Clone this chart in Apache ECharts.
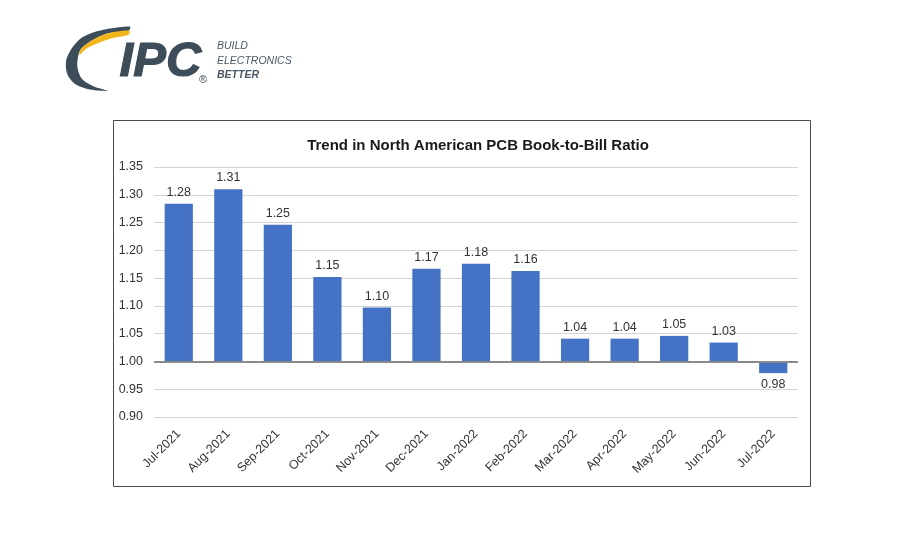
<!DOCTYPE html>
<html>
<head>
<meta charset="utf-8">
<script src="https://cdn.jsdelivr.net/npm/echarts@6/dist/echarts.min.js"></script>
<style>
html,body{margin:0;padding:0;background:#fff;}
#chart{width:900px;height:550px;}
</style>
</head>
<body>
<div id="chart"></div>
<script>
// ---- data ----
var categories = ['Jul-2021','Aug-2021','Sep-2021','Oct-2021','Nov-2021','Dec-2021','Jan-2022','Feb-2022','Mar-2022','Apr-2022','May-2022','Jun-2022','Jul-2022'];
var ratios = [1.284, 1.310, 1.246, 1.152, 1.097, 1.167, 1.176, 1.163, 1.041, 1.041, 1.046, 1.034, 0.979];
var baseline = 1.00;
var yMin = 0.90, yMax = 1.35, yStep = 0.05;
var titleText = 'Trend in North American PCB Book-to-Bill Ratio';

var chart = echarts.init(document.getElementById('chart'), null, {renderer:'canvas'});
var FONT = 'Liberation Sans, Arial, sans-serif';

var barData = ratios.map(function (v) {
  var d = v - baseline;
  return {value: d, label: {position: d < 0 ? 'bottom' : 'top'}};
});

var option = {
  backgroundColor: '#ffffff',
  animation: false,
  title: {
    text: titleText,
    left: 473, top: 133, textAlign: 'center',
    textStyle: {fontFamily: FONT, fontSize: 15, fontWeight: 'bold', color: '#1a1a1a'}
  },
  grid: {left: 154, right: 102, top: 167, bottom: 133, containLabel: false},
  xAxis: {
    type: 'category',
    data: categories,
    axisLine: {show: false, onZero: false},
    axisTick: {show: false},
    axisLabel: {rotate: 45, fontFamily: FONT, fontSize: 12.5, color: '#333', margin: 15, interval: 0}
  },
  yAxis: {
    type: 'value',
    min: yMin - baseline, max: yMax - baseline, interval: yStep,
    axisLine: {show: false}, axisTick: {show: false},
    splitLine: {lineStyle: {color: '#d4d4d4', width: 1.2}},
    axisLabel: {
      fontFamily: FONT, fontSize: 12.5, color: '#333', margin: 11,
      formatter: function (v) { return (v + baseline).toFixed(2); }
    }
  },
  series: [{
    type: 'bar',
    data: barData,
    barCategoryGap: '43%',
    itemStyle: {color: '#4472C4'},
    label: {
      show: true, distance: 5,
      fontFamily: FONT, fontSize: 12.5, color: '#333',
      formatter: function (p) { return (p.value + baseline).toFixed(2); }
    },
    markLine: {
      silent: true, symbol: 'none',
      label: {show: false},
      lineStyle: {color: '#8a8a8a', width: 2, type: 'solid'},
      data: [{yAxis: 0}]
    }
  }],
  graphic: [
    {type: 'rect', shape: {x: 113.5, y: 120.5, width: 697, height: 366}, style: {fill: 'none', stroke: '#4a4a4a', lineWidth: 1}, z: 10},
    // logo swoosh (dark)
    {type: 'polygon', shape: {smooth: 0.3, points: [
      [130,26.5],[110,28.5],[93,32.5],[80,39],[71,49.5],[66,61.3],[67.5,74.7],[76,84.5],[90,89.5],[108,91],
      [94,86.5],[82,79],[77.5,68],[78,57],[81,49],[91,41],[107,33.5],[128.5,30.7]
    ]}, style: {fill: '#3d4c59'}},
    // logo swoosh (yellow)
    {type: 'polygon', shape: {smooth: 0.3, points: [
      [129,30.5],[107,33.5],[91,41],[81,49],[79.5,55],[86,49],[96,44],[111,38.5],[129,34.5]
    ]}, style: {fill: '#f2b51c'}},
    {type: 'text', left: 119, top: 37, style: {text: 'IPC', font: 'italic bold 49px ' + FONT, fill: '#3d4c59', stroke: '#3d4c59', lineWidth: 1.2}},
    {type: 'text', left: 199, top: 74, style: {text: '®', font: '11px ' + FONT, fill: '#3d4c59'}},
    {type: 'text', left: 217, top: 41, style: {text: 'BUILD', font: 'italic 10.5px ' + FONT, fill: '#4a5866'}},
    {type: 'text', left: 217, top: 56, style: {text: 'ELECTRONICS', font: 'italic 10.5px ' + FONT, fill: '#4a5866'}},
    {type: 'text', left: 217, top: 70, style: {text: 'BETTER', font: 'italic bold 10.5px ' + FONT, fill: '#4a5866'}}
  ]
};
chart.setOption(option);
</script>
</body>
</html>
